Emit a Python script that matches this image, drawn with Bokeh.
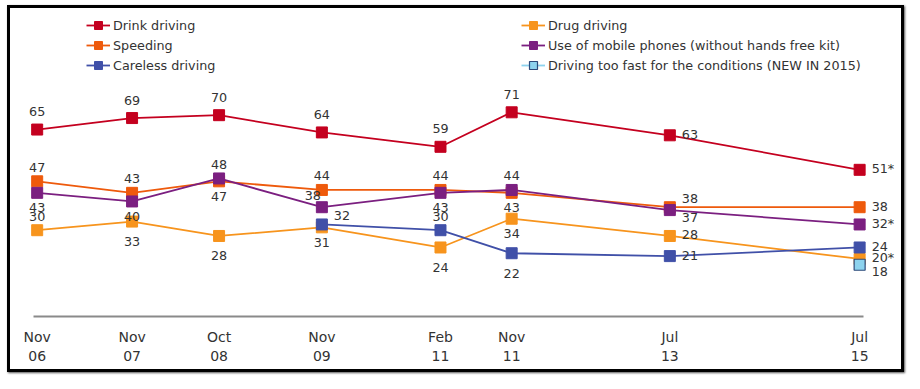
from bokeh.plotting import figure
from bokeh.models import Range1d, FixedTicker, Legend, LegendItem, ColumnDataSource
from bokeh.core.properties import value
from bokeh.embed import file_html
from bokeh.resources import INLINE

# ---------------- data ----------------
survey_dates = ["Nov 06", "Nov 07", "Oct 08", "Nov 09", "Feb 11", "Nov 11", "Jul 13", "Jul 15"]
drink_driving = [65, 69, 70, 64, 59, 71, 63, 51]
speeding = [47, 43, 47, 44, 44, 43, 38, 38]
mobile_phones = [43, 40, 48, 38, 43, 44, 37, 32]
drug_driving = [30, 33, 28, 31, 24, 34, 28, 20]
careless_dates = ["Nov 09", "Feb 11", "Nov 11", "Jul 13", "Jul 15"]
careless_driving = [32, 30, 22, 21, 24]
too_fast_dates = ["Jul 15"]
too_fast = [18]
# dates whose value is marked with an asterisk, per series
drink_starred = ["Jul 15"]
mobile_starred = ["Jul 15"]
drug_starred = ["Jul 15"]

# ---------------- label placement (style) ----------------
drink_place = ["A", "A", "A", "A", "A", "A", "r", "r"]
speeding_place = ["a", "a", "b", "a", "a", "b", "ar", "r"]
mobile_place = ["b", "b", "a", "al", "b", "a", "br", "r"]
drug_place = ["a", "B", "B", "b", "B", "b", "r", "r"]
careless_place = ["ar", "a", "B", "r", "r"]
too_fast_place = ["br"]

OFFSETS = {
    "A": (0, -18, "center"),
    "a": (0, -14, "center"),
    "b": (0, 15, "center"),
    "B": (0, 20, "center"),
    "r": (12, -1, "left"),
    "ar": (12, -9, "left"),
    "br": (12, 7, "left"),
    "al": (-9, -12, "center"),
}

MONTHS = {"Jan": 1, "Feb": 2, "Mar": 3, "Apr": 4, "May": 5, "Jun": 6,
          "Jul": 7, "Aug": 8, "Sep": 9, "Oct": 10, "Nov": 11, "Dec": 12}


def month_index(label):
    mon, yy = label.split()
    return (2000 + int(yy)) * 12 + MONTHS[mon]


BASE = month_index(survey_dates[0])


def to_x(dates):
    return [month_index(d) - BASE for d in dates]


FONT = "DejaVu Sans"

p = figure(width=897, height=367, output_backend="svg", toolbar_location=None,
           x_range=Range1d(-3.12, 109.8), y_range=Range1d(0, 105.7),
           y_axis_location=None,
           min_border_left=2, min_border_right=2, min_border_top=4, min_border_bottom=59)
p.margin = (5, 0, 0, 7)
p.styles = {"border": "3px solid #000", "box-shadow": "1px 1px 2px #555"}
p.xgrid.visible = False
p.ygrid.visible = False
p.outline_line_color = None
p.background_fill_color = "white"
p.border_fill_color = "white"

series = [
    ("Drink driving", survey_dates, drink_driving, drink_starred, drink_place, "#C4001F", "#C4001F", "#C4001F"),
    ("Speeding", survey_dates, speeding, [], speeding_place, "#EE5A0C", "#EE5A0C", "#EE5A0C"),
    ("Drug driving", survey_dates, drug_driving, drug_starred, drug_place, "#F7941D", "#F7941D", "#F7941D"),
    ("Careless driving", careless_dates, careless_driving, [], careless_place, "#4050A8", "#4050A8", "#4050A8"),
    ("Use of mobile phones (without hands free kit)", survey_dates, mobile_phones, mobile_starred, mobile_place,
     "#7B1F80", "#7B1F80", "#7B1F80"),
    ("Driving too fast for the conditions (NEW IN 2015)", too_fast_dates, too_fast, [], too_fast_place,
     "#8DD3EE", "#8DD3EE", "#2E4A7A"),
]

items = {}
for name, dates, vals, starred, place, lcolor, fcolor, mline in series:
    xs = to_x(dates)
    labels = [f"{v}*" if d in starred else f"{v}" for d, v in zip(dates, vals)]
    src = ColumnDataSource(dict(
        x=xs, y=vals, label=labels,
        dx=[OFFSETS[k][0] for k in place],
        dy=[OFFSETS[k][1] for k in place],
        align=[OFFSETS[k][2] for k in place],
    ))
    r_line = p.line("x", "y", source=src, line_color=lcolor, line_width=1.8)
    r_pt = p.scatter("x", "y", source=src, marker="square", size=11,
                     fill_color=fcolor, line_color=mline, line_width=1.2 if mline != fcolor else 1)
    p.text("x", "y", text="label", source=src, x_offset="dx", y_offset="dy",
           text_align="align", text_baseline="middle",
           text_font=value(FONT), text_font_size="12.75px", text_color="#333333")
    items[name] = LegendItem(label=name, renderers=[r_line, r_pt])


def make_legend(names, loc):
    lg = Legend(items=[items[n] for n in names], location=loc, orientation="vertical",
                label_text_font=FONT, label_text_font_size="12.75px", label_text_color="#333333",
                glyph_width=24, glyph_height=20, label_height=20, label_standoff=3,
                spacing=0, padding=0, margin=0, border_line_color=None,
                background_fill_alpha=0)
    return lg


p.add_layout(make_legend(["Drink driving", "Speeding", "Careless driving"], (74, 241)))
p.add_layout(make_legend(["Drug driving", "Use of mobile phones (without hands free kit)",
                          "Driving too fast for the conditions (NEW IN 2015)"], (509, 241)))

ticks = to_x(survey_dates)
ax = p.xaxis[0]
ax.ticker = FixedTicker(ticks=ticks)
ax.bounds = (-0.47, 104.5)
ax.major_label_overrides = {t: d.replace(" ", "\n") for t, d in zip(ticks, survey_dates)}
ax.major_tick_line_color = None
ax.minor_tick_line_color = None
ax.axis_line_color = "#8a8a8a"
ax.axis_line_width = 2
ax.major_label_standoff = 6
ax.major_label_text_font = FONT
ax.major_label_text_font_size = "14px"
ax.major_label_text_color = "#333333"

open("out.html", "w").write(file_html(p, INLINE))
